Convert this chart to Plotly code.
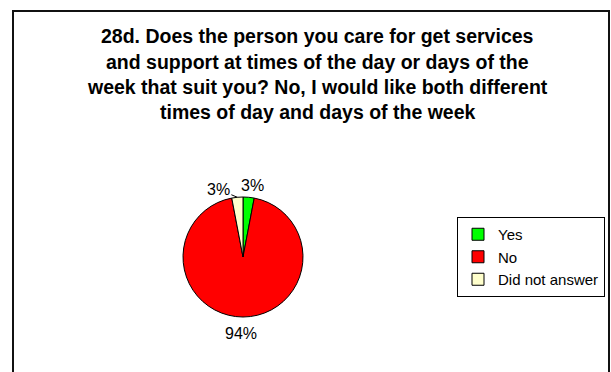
import math
import plotly.graph_objects as go

labels = ["Yes", "No", "Did not answer"]
values = [3, 94, 3]
colors = ["#00FF00", "#FF0000", "#FFFFCC"]
title_lines = [
    "28d. Does the person you care for get services",
    "and support at times of the day or days of the",
    "week that suit you? No, I would like both different",
    "times of day and days of the week",
]

W, H = 611, 372


def px(x):
    return x / W


def py(y):
    return 1 - y / H


cx, cy, r = 243, 257, 60
FONT = "Liberation Sans, Arial"

fig = go.Figure()
fig.add_trace(go.Pie(
    labels=labels, values=values, sort=False, direction="clockwise", rotation=0,
    marker=dict(colors=colors, line=dict(color="#000000", width=1)),
    textinfo="none",
    domain=dict(x=[px(cx - r), px(cx + r)], y=[py(cy + r), py(cy - r)]),
    hoverinfo="label+percent",
))

# percentage labels placed outside each slice at its mid-angle
total = sum(values)
cum = 0.0
label_style = {
    "Yes": dict(pad=12, xshift=3, yshift=0, arrow=False),
    "No": dict(pad=16, xshift=-2, yshift=0, arrow=False),
    "Did not answer": dict(pad=0, xshift=0, yshift=0, arrow=True),
}
for lab, v in zip(labels, values):
    mid = (cum + v / 2) / total * 2 * math.pi
    cum += v
    st = label_style[lab]
    rr = r + st["pad"]
    x = cx + rr * math.sin(mid)
    y = cy - rr * math.cos(mid)
    pct = "%d%%" % round(100 * v / total)
    if st["arrow"]:
        fig.add_annotation(
            text=pct, xref="paper", yref="paper", x=px(x), y=py(y),
            showarrow=True, arrowhead=0, arrowwidth=1, arrowcolor="#000000",
            ax=-19, ay=-8, standoff=0,
            font=dict(family=FONT, size=16, color="#000000"),
        )
    else:
        fig.add_annotation(
            text=pct, xref="paper", yref="paper", x=px(x), y=py(y),
            xanchor="center", yanchor="middle", showarrow=False,
            xshift=st["xshift"], yshift=st["yshift"],
            font=dict(family=FONT, size=16, color="#000000"),
        )

baselines = [42, 68, 93, 118]
for line, b in zip(title_lines, baselines):
    fig.add_annotation(
        text="<b>%s</b>" % line, xref="paper", yref="paper",
        x=px(317), y=py(b + 7), xanchor="center", yanchor="bottom",
        showarrow=False, font=dict(family=FONT, size=19.5, color="#000000"),
    )

fig.add_shape(type="rect", xref="paper", yref="paper",
              x0=px(13), x1=px(609), y0=-0.1, y1=py(11),
              line=dict(color="#111111", width=2), fillcolor="rgba(0,0,0,0)", layer="below")

fig.update_layout(
    width=W, height=H, margin=dict(l=0, r=0, t=0, b=0),
    paper_bgcolor="#FFFFFF", plot_bgcolor="#FFFFFF",
    font=dict(family=FONT, color="#000000"),
    showlegend=True,
    legend=dict(
        x=px(605), xanchor="right", y=py(217), yanchor="top",
        bordercolor="#000000", borderwidth=1, bgcolor="#FFFFFF",
        font=dict(family=FONT, size=15, color="#000000"),
        tracegroupgap=0, itemwidth=30,
    ),
)

fig.write_html(
    "out.html",
    config={"displayModeBar": False},
    post_script="document.body.style.margin='0';document.body.style.overflow='hidden';",
)
